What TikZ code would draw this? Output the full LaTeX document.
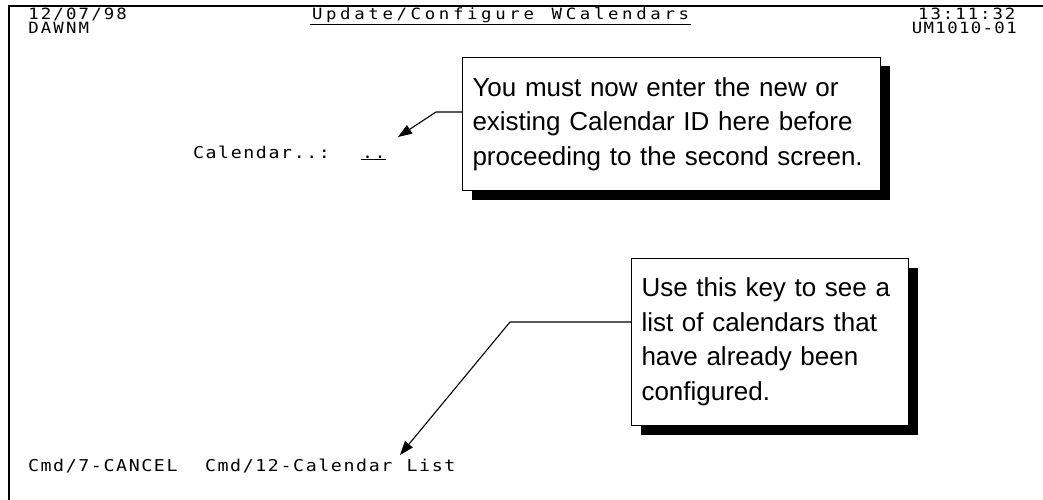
\documentclass[tikz,border=0pt]{standalone}
\usepackage{fontspec}
\setmainfont{Liberation Sans}
\newfontfamily\scrfont[FakeStretch=1.12]{DejaVu Sans Mono}
\usetikzlibrary{arrows.meta,shadows,calc}
\newlength\monow
\newcommand\mono[2][12.6pt]{\setlength\monow{#1}\monoloop#2\relax}
\def\monoloop#1{\ifx\relax#1\else\makebox[\monow][c]{#1}\expandafter\monoloop\fi}
\begin{document}
\begin{tikzpicture}[x=1pt,y=-1pt,
  scrtext/.style={inner sep=0pt, anchor=base west, font=\scrfont\fontsize{16.3}{18}\selectfont},
  hdrtext/.style={scrtext, font=\scrfont\fontsize{15.5}{18}\selectfont},
  callout/.style={draw=black, line width=1pt, fill=white, anchor=north west, align=left,
    inner xsep=10pt, inner ysep=4pt, font=\fontsize{26}{34.5}\selectfont,
    drop shadow={shadow xshift=9pt, shadow yshift=-9pt, opacity=1, fill=black}},
  pointer/.style={line width=1.1pt, -{Triangle[length=14pt,width=10pt]}}
]
\useasboundingbox (0,0) rectangle (1043,500);
\fill[white] (0,0) rectangle (1043,500);
\draw[line width=2pt] (8.5,500) -- (8.5,6.5) -- (1043,6.5);

% header
\node[hdrtext] (date) at (27,19.5) {\mono{12/07/98}};
\node[hdrtext] (user) at (27,33.5) {\mono{DAWNM}};
\node[hdrtext] (title) at (310,19.5) {\underline{\mono[14.1pt]{Update/Configure~WCalendars}}};
\node[hdrtext] (time) at (917,19.5) {\mono[12.4pt]{13:11:32}};
\node[hdrtext] (scrid) at (911,33.5) {\mono[11.8pt]{UM1010-01}};

% field
\node[scrtext] (cal) at (192,158) {\mono{Calendar..:}};
\node[scrtext] (dots) at (361,158) {\underline{\mono{..}}};

% footer
\node[scrtext] (cancel) at (27,471) {\mono{Cmd/7-CANCEL}};
\node[scrtext] (list) at (204,471) {\mono{Cmd/12-Calendar~List}};

% callouts
\node[callout, text width=398pt, minimum height=133pt] (c1) at (462,57)
  {You must now enter the new or\\existing Calendar ID here before\\proceeding to the second screen.};
\node[callout, text width=257pt, minimum height=167pt] (c2) at (631,258)
  {Use this key to see a\\list of calendars that\\have already been\\configured.};

% connectors
\coordinate (k1) at (436,112);
\coordinate (t1) at (398,137);
\draw[pointer] (c1.west |- k1) -- (k1) -- (t1);
\coordinate (k2) at (510,322);
\coordinate (t2) at (400,455);
\draw[pointer] (c2.west |- k2) -- (k2) -- (t2);
\end{tikzpicture}
\end{document}
